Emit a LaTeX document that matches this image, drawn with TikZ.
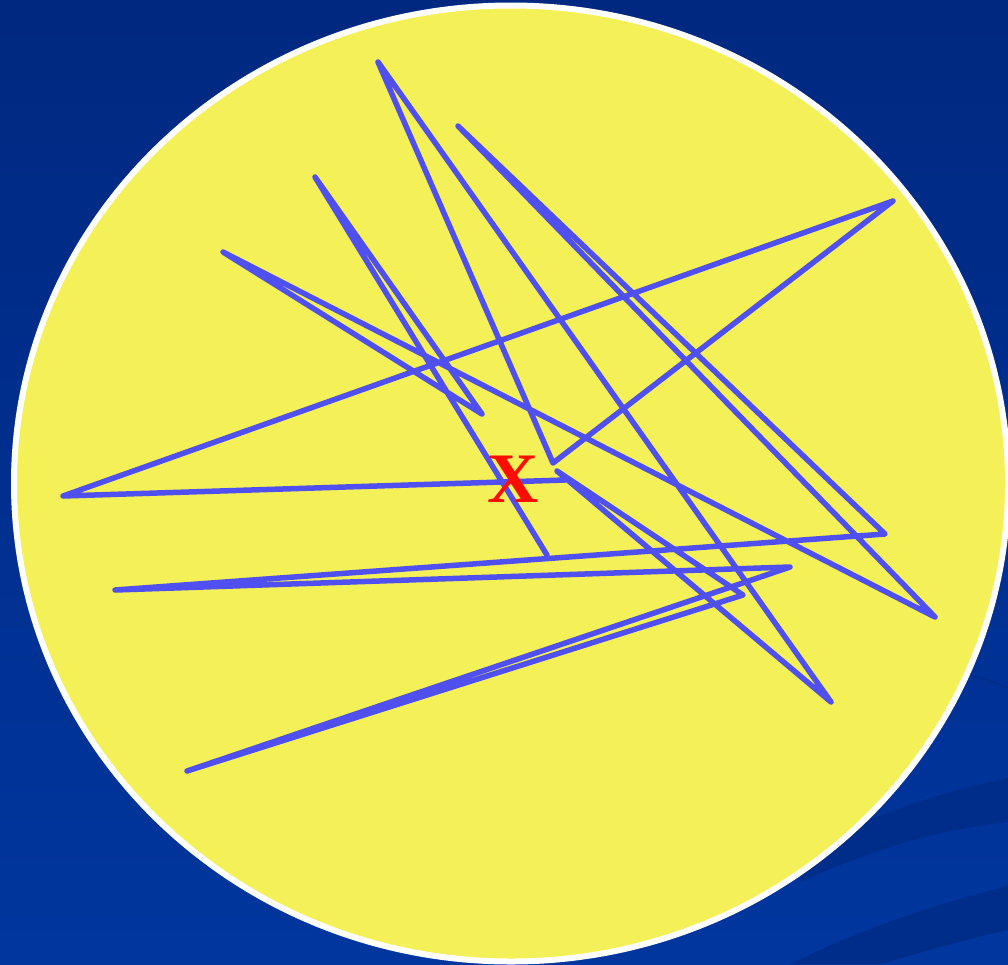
\documentclass[tikz,border=0pt]{standalone}
\usepackage{fontspec}
\setmainfont{Liberation Serif}
\usetikzlibrary{positioning}

\definecolor{bgtop}{RGB}{0,40,128}
\definecolor{bgbottom}{RGB}{0,54,158}
\definecolor{swoosh}{RGB}{0,45,138}
\definecolor{discyellow}{RGB}{244,240,88}
\definecolor{scribblue}{RGB}{80,80,240}
\definecolor{xred}{RGB}{255,12,0}

\begin{document}
\begin{tikzpicture}[
    x=1pt, y=-1pt,
    backdrop/.style={top color=bgtop, bottom color=bgbottom},
    band/.style={fill=swoosh},
    disc/.style={fill=discyellow, draw=white, line width=6pt},
    scribble/.style={draw=scribblue, line width=5.5pt, line cap=round, line join=round},
    cross/.style={text=xred, inner sep=0pt,
                  font=\fontsize{71}{71}\selectfont\bfseries},
]
\useasboundingbox (0,0) rectangle (1008,964);

% background with faint swooshes
\shade[backdrop] (0,0) rectangle (1008,964);
\fill[band] (1008,778) .. controls (940,792) and (880,812) .. (800,852)
    -- (800,882) .. controls (880,846) and (940,830) .. (1008,822) -- cycle;
\fill[band] (1008,886) .. controls (930,905) and (860,930) .. (790,964)
    -- (880,964) .. controls (930,950) and (970,938) .. (1008,930) -- cycle;
\draw[swoosh, line width=2pt] (960,672) .. controls (982,678) .. (1008,688);

% the disc
\draw[disc] (511,483.5) ellipse [x radius=497, y radius=478];

% corners of the scribble
\coordinate (start) at (547,555);
\coordinate (c1)  at (315,177);
\coordinate (c2)  at (482,414);
\coordinate (c3)  at (223,252);
\coordinate (c4)  at (935,617);
\coordinate (c5)  at (458,126);
\coordinate (c6)  at (885,534);
\coordinate (c7)  at (115,590);
\coordinate (c8)  at (790,567);
\coordinate (c9)  at (187,771);
\coordinate (c10) at (743,595);
\coordinate (c11) at (557,471);
\coordinate (c12) at (831,702);
\coordinate (c13) at (378,62);
\coordinate (c14) at (553,463);
\coordinate (c15) at (893,201);
\coordinate (c16) at (63,496);
\coordinate (finish) at (565,480);

\draw[scribble] (start) -- (c1) -- (c2) -- (c3) -- (c4) -- (c5) -- (c6)
    -- (c7) -- (c8) -- (c9) -- (c10) -- (c11) -- (c12) -- (c13)
    -- (c14) -- (c15) -- (c16) -- (finish);

\node[cross] (xmark) at (513,479) {X};
\end{tikzpicture}
\end{document}
